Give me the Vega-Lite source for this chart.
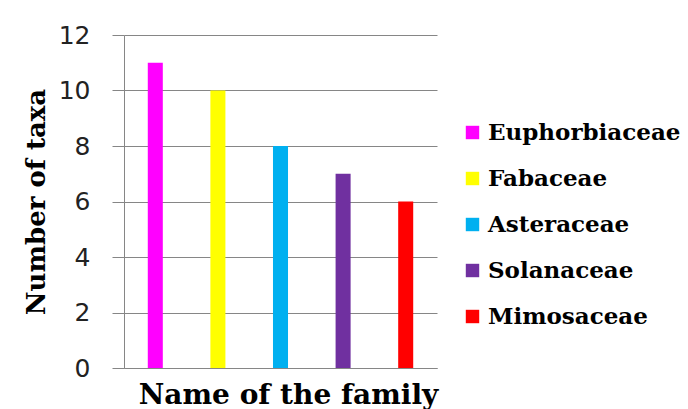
{
  "$schema": "https://vega.github.io/schema/vega-lite/v6.json",
  "width": 313,
  "height": 333,
  "padding": {"left": 23, "top": 23, "right": 5, "bottom": 0},
  "background": "white",
  "data": {
    "values": [
      {"family": "Euphorbiaceae", "taxa": 11},
      {"family": "Fabaceae", "taxa": 10},
      {"family": "Asteraceae", "taxa": 8},
      {"family": "Solanaceae", "taxa": 7},
      {"family": "Mimosaceae", "taxa": 6}
    ]
  },
  "mark": {"type": "bar"},
  "encoding": {
    "x": {
      "field": "family",
      "type": "nominal",
      "sort": null,
      "scale": {"paddingInner": 0.76, "paddingOuter": 0.38},
      "axis": {
        "title": "Name of the family",
        "labels": false,
        "ticks": false,
        "domainColor": "#868686",
        "titleFont": "DejaVu Serif",
        "titleFontWeight": "bold",
        "titleFontSize": 28,
        "titleColor": "#000000",
        "titlePadding": 13,
        "titleX": 164
      }
    },
    "y": {
      "field": "taxa",
      "type": "quantitative",
      "scale": {"domain": [0, 12]},
      "axis": {
        "title": "Number of taxa",
        "values": [0, 2, 4, 6, 8, 10, 12],
        "tickSize": 12,
        "tickColor": "#868686",
        "domainColor": "#868686",
        "gridColor": "#868686",
        "labelFont": "DejaVu Sans",
        "labelFontSize": 25,
        "labelColor": "#222222",
        "labelPadding": 22,
        "titleFont": "DejaVu Serif",
        "titleFontWeight": "bold",
        "titleFontSize": 26,
        "titleColor": "#000000",
        "titlePadding": 9
      }
    },
    "color": {
      "field": "family",
      "type": "nominal",
      "sort": null,
      "scale": {
        "domain": ["Euphorbiaceae", "Fabaceae", "Asteraceae", "Solanaceae", "Mimosaceae"],
        "range": ["#FF00FF", "#FFFF00", "#00B0F0", "#7030A0", "#FF0000"]
      },
      "legend": {
        "title": null,
        "orient": "none",
        "legendX": 337,
        "legendY": 86,
        "symbolType": "square",
        "symbolSize": 180,
        "symbolStrokeWidth": 0,
        "labelFont": "DejaVu Serif",
        "labelFontWeight": "bold",
        "labelFontSize": 23,
        "labelColor": "#000000",
        "labelOffset": 4,
        "labelLimit": 400,
        "rowPadding": 22
      }
    }
  },
  "config": {
    "view": {"stroke": null}
  }
}
